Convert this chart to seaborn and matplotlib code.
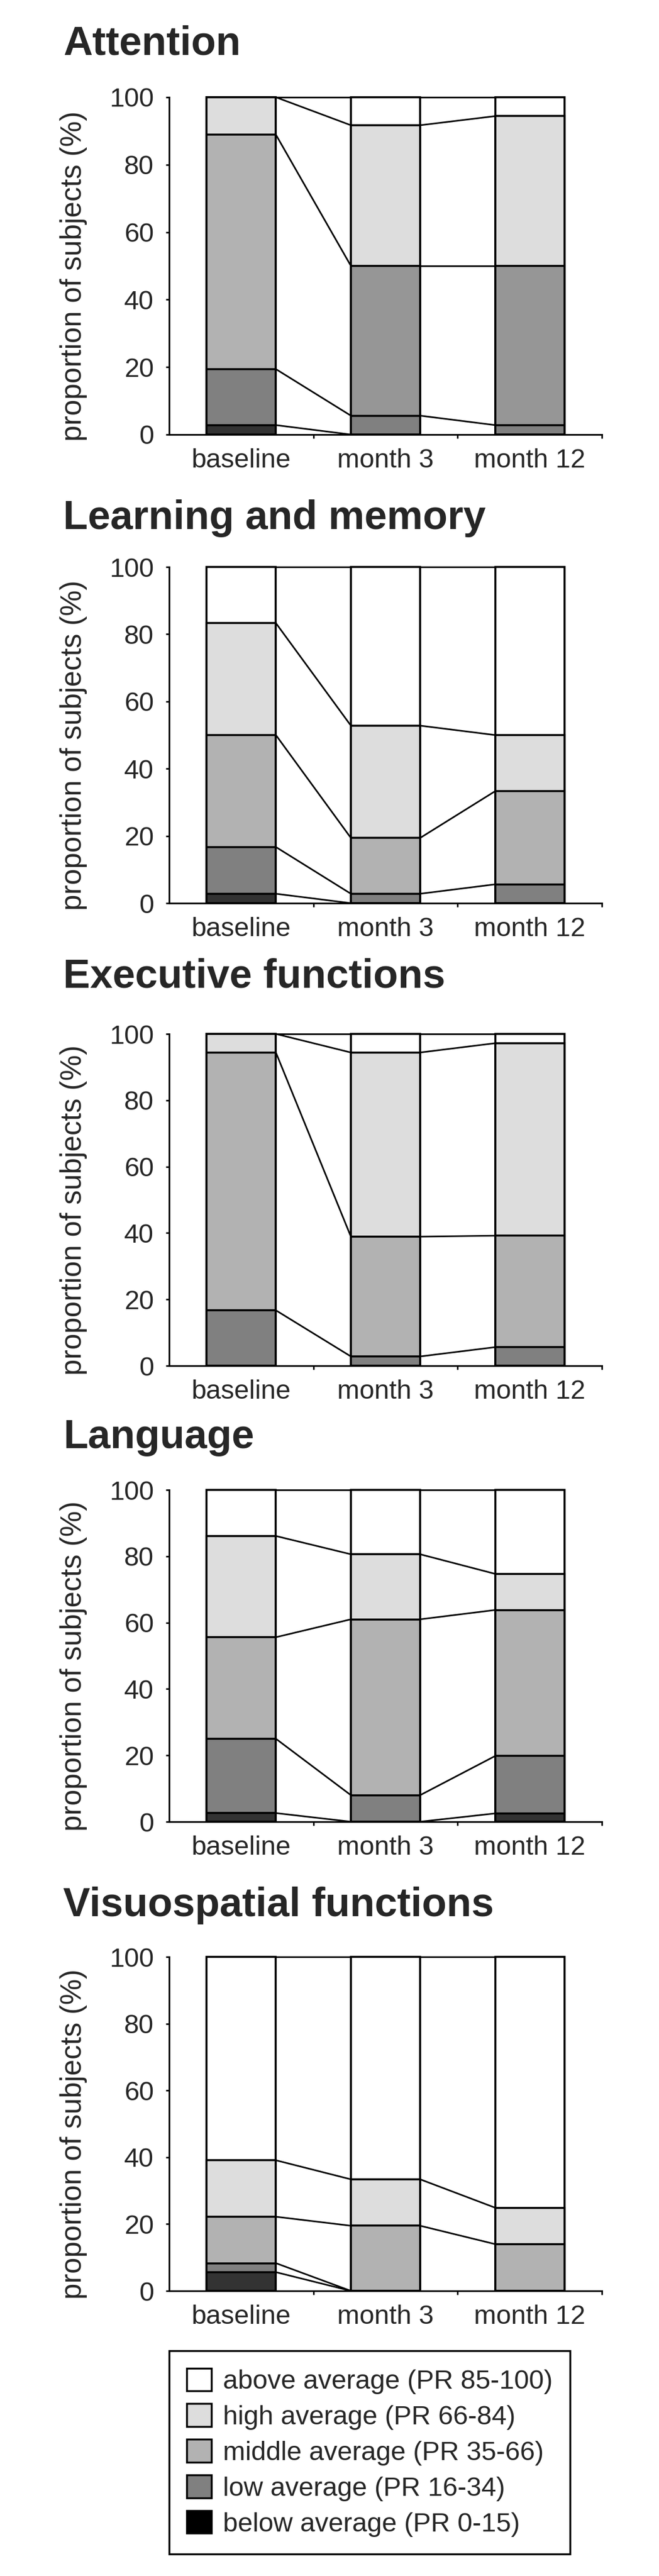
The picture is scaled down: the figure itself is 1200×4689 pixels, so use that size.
import numpy as np
import matplotlib
matplotlib.use("Agg")
import matplotlib.pyplot as plt
import seaborn as sns
from matplotlib.patches import Patch

sns.set_theme(style="white")
plt.rcParams["font.family"] = ["Liberation Sans", "DejaVu Sans"]

timepoints = ["baseline", "month 3", "month 12"]
levels = ["below average (PR 0-15)", "low average (PR 16-34)",
          "middle average (PR 35-66)", "high average (PR 66-84)",
          "above average (PR 85-100)"]
shades = ["#333333", "#808080", "#b2b2b2", "#dddddd", "#ffffff"]
legend_shades = ["#000000", "#808080", "#b2b2b2", "#dddddd", "#ffffff"]

domains = ["Attention", "Learning and memory", "Executive functions",
           "Language", "Visuospatial functions"]

# % of subjects per timepoint, levels bottom -> top (below, low, middle, high, above)
attention = [[2.8, 16.6, 69.5, 11.1, 0.0],
             [0.0, 5.6, 44.4, 41.7, 8.3],
             [0.0, 2.8, 47.2, 44.4, 5.6]]
learning = [[2.8, 13.9, 33.3, 33.3, 16.7],
            [0.0, 2.8, 16.6, 33.4, 47.2],
            [0.0, 5.6, 27.7, 16.7, 50.0]]
executive = [[0.0, 16.7, 77.7, 5.6, 0.0],
             [0.0, 2.8, 36.1, 55.5, 5.6],
             [0.0, 5.6, 33.6, 58.0, 2.8]]
language = [[2.6, 22.4, 30.6, 30.5, 13.9],
            [0.0, 8.0, 53.0, 19.6, 19.4],
            [2.5, 17.3, 44.0, 10.9, 25.3]]
visuospatial = [[5.6, 2.7, 13.9, 16.9, 60.9],
                [0.0, 0.0, 19.5, 13.9, 66.6],
                [0.0, 0.0, 14.0, 10.9, 75.1]]
domain_data = [attention, learning, executive, language, visuospatial]

# the original shades the attention "middle" block at month 3/12 a bit darker
overrides = {("Attention", 2, 1): "#969696", ("Attention", 2, 2): "#969696"}

W, H = 1200, 4689
fig = plt.figure(figsize=(W / 100, H / 100), dpi=100)

# pixel layout (top of y=100, y=0, title baseline)
panel_px = [(177, 791, 99), (1032, 1644, 963), (1882, 2486, 1798),
            (2712, 3316, 2636), (3562, 4170, 3488)]
ax_left, ax_width = 308, 788
bar_w = 0.48

for name, data, (ytop, ybot, ytitle) in zip(domains, domain_data, panel_px):
    ax = fig.add_axes([ax_left / W, 1 - ybot / H, ax_width / W, (ybot - ytop) / H])
    cum = np.cumsum(np.array(data), axis=1)

    # draw cumulative bars from the top level down so they stack visually
    for k in range(len(levels) - 1, -1, -1):
        cols = [overrides.get((name, k, i), shades[k]) for i in range(len(timepoints))]
        sns.barplot(x=timepoints, y=cum[:, k], hue=timepoints, palette=cols,
                    order=timepoints, hue_order=timepoints, legend=False,
                    width=bar_w, saturation=1, edgecolor="black", linewidth=2.6,
                    ax=ax)
    for p in ax.patches:
        p.set_clip_on(False)

    # series lines joining the level boundaries
    for k in range(len(levels)):
        for i in range(len(timepoints) - 1):
            ax.plot([i + bar_w / 2, i + 1 - bar_w / 2], [cum[i, k], cum[i + 1, k]],
                    color="black", lw=2.1, clip_on=False, zorder=5)

    ax.set_xlim(-0.5, len(timepoints) - 0.5)
    ax.set_ylim(0, 100)
    ax.set_yticks(range(0, 101, 20))
    ax.set_xticks(range(len(timepoints)))
    ax.set_xticklabels(timepoints)
    ax.set_xticks([0.5, 1.5, 2.5], minor=True)
    ax.tick_params(axis="x", which="major", length=0, pad=18, labelsize=35)
    ax.tick_params(axis="x", which="minor", length=5, width=2, direction="out",
                   color="black", bottom=True)
    ax.tick_params(axis="y", length=4, width=2, direction="out", pad=16,
                   labelsize=35, color="black", left=True)
    for s in ["top", "right"]:
        ax.spines[s].set_visible(False)
    for s in ["left", "bottom"]:
        ax.spines[s].set_color("black")
        ax.spines[s].set_linewidth(2.2)
    ax.set_xlabel("")
    ax.set_ylabel("proportion of subjects (%)", fontsize=38, va="center")
    ax.yaxis.set_label_coords(-0.221, 0.47)
    ax.set_facecolor("white")

    fig.text(115 / W, 1 - ytitle / H, name, fontsize=53, fontweight="bold",
             ha="left", va="baseline")

handles = [Patch(facecolor=c, edgecolor="black", linewidth=2.5, label=l)
           for c, l in zip(legend_shades[::-1], levels[::-1])]
leg = fig.legend(handles=handles, loc="upper left",
                 bbox_to_anchor=(308 / W, 1 - 4279 / H), borderaxespad=0,
                 fontsize=35, handlelength=0.93, handleheight=0.93,
                 handletextpad=0.43, labelspacing=0.36, borderpad=0.65,
                 frameon=True, fancybox=False, framealpha=1)
leg.get_frame().set_edgecolor("black")
leg.get_frame().set_linewidth(2.5)

fig.savefig("out.png", dpi=100)
